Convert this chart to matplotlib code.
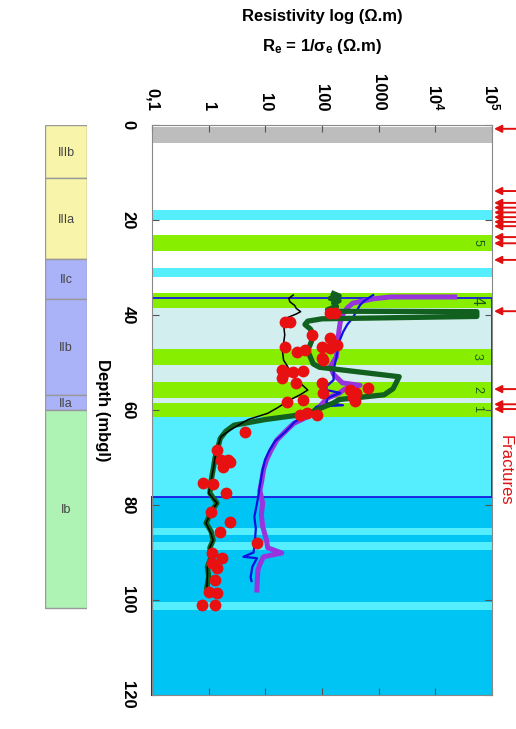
import matplotlib
matplotlib.use("Agg")
import matplotlib.pyplot as plt
from matplotlib.patches import Rectangle
from matplotlib.transforms import blended_transform_factory

plt.rcParams["font.family"] = ["Liberation Sans", "DejaVu Sans"]
plt.rcParams["font.weight"] = "bold"
plt.rcParams["mathtext.default"] = "regular"

# -- data (depth in m below ground, resistivity in ohm.m) ---------------------

green_depth = [35.5, 36.0, 36.5, 37.0, 37.5, 38.2, 38.9, 39.2, 39.3, 40.3, 40.8, 41.3,
               42.0, 43.0, 44.5, 46.0, 47.5, 49.0, 50.3, 51.0, 53.0, 55.5, 56.8, 57.8,
               58.5, 59.3, 60.3, 61.2, 62.0, 63.2, 64.5, 66.0, 68.0, 70.0, 72.5, 75.0,
               77.5, 79.6, 81.5, 83.8, 85.5, 87.4, 89.0, 91.0, 93.0, 95.0, 97.3]
green_res = [160, 200, 140, 200, 160, 180, 125, 160, 54000, 54000, 100, 56,
             50, 63, 70, 63, 56, 63, 70, 90, 2300, 1800, 1250, 200,
             160, 110, 70, 32, 10, 2.8, 2.0, 1.6, 1.45, 1.3, 1.2, 1.1,
             1.05, 1.4, 1.1, 0.9, 1.1, 1.2, 1.05, 1.1, 0.95, 1.0, 0.93]

black_depth = [35.8, 36.5, 37.2, 38.0, 38.6, 39.3, 39.8, 40.6, 42.0, 44.2, 46.0, 47.5,
               49.5, 51.6, 53.0, 54.3, 55.8, 56.8, 57.9, 59.6, 60.7, 62.0, 64.2, 65.6,
               67.7, 70.0, 72.6, 75.0, 77.5, 79.6, 81.5, 83.8, 86.0, 87.4, 89.5, 91.5,
               93.0, 95.0, 97.3]
black_res = [31, 26, 27, 33, 35, 42, 35, 24, 21, 22, 21, 20,
             21, 27, 32, 41, 56, 41, 27, 16, 11, 5, 2.4, 1.65,
             1.45, 1.3, 1.2, 1.1, 1.0, 1.4, 1.1, 0.9, 1.1, 1.2, 1.0, 1.1,
             0.95, 0.95, 0.93]

purple_depth = [36.2, 36.2, 36.6, 37.5, 38.5, 39.6, 41.5, 43.2, 45.5, 48.8, 50.9, 52.5,
                54.3, 54.8, 55.6, 56.5, 57.5, 59.3, 61.5, 62.8, 64.2, 66.3, 68.5, 70.5,
                72.5, 74.7, 77.0, 79.6, 82.0, 84.6, 87.4, 89.0, 90.1, 90.9, 92.5, 93.7,
                96.0, 97.9]
purple_res = [22000, 1600, 800, 350, 280, 240, 210, 200, 190, 180, 140, 160,
              230, 470, 250, 200, 125, 90, 54, 32, 24, 16, 12.6, 10.5,
              9.3, 8.7, 8.0, 9.0, 8.5, 9.0, 10.5, 11, 19.5, 9.3, 8.0, 7.4,
              7.2, 7.1]

blue_depth = [35.8, 37.0, 37.9, 39.3, 40.6, 42.0, 43.6, 45.7, 48.8, 51.6, 53.7, 55.0,
              55.8, 56.4, 57.5, 58.5, 59.0, 59.3, 61.0, 62.5, 64.5, 66.5, 68.5, 70.5,
              73.0, 76.0, 79.0, 82.5, 85.0, 88.0, 90.0, 90.9, 91.2, 93.0, 95.2, 96.0]
blue_res = [800, 560, 470, 400, 350, 280, 235, 200, 180, 160, 160, 120,
            120, 210, 125, 120, 235, 80, 58, 33, 23, 15, 11.8, 9.9,
            8.8, 8.0, 7.3, 6.4, 6.8, 6.5, 6.2, 4.1, 7.1, 5.9, 5.5, 5.7]

dots_depth = [39.6, 39.6, 41.4, 41.4, 44.2, 44.8, 46.7, 47.8, 47.4, 46.7, 46.9, 46.3,
              49.0, 49.5, 51.6, 52.0, 52.0, 51.8, 53.3, 54.3, 54.3, 56.4, 55.8, 56.5,
              57.2, 58.0, 55.4, 58.3, 57.9, 61.0, 60.6, 61.0, 64.7, 68.4, 70.5, 70.5,
              72.0, 71.0, 75.4, 75.6, 77.5, 81.5, 83.6, 85.7, 88.0, 90.1, 91.2, 92.2,
              93.3, 95.8, 98.3, 98.5, 101.0, 101.0]
dots_res = [138, 170, 22, 27, 66, 138, 22, 36, 50, 100, 138, 182,
            100, 105, 19.5, 22, 31, 46, 19.5, 35, 100, 105, 316, 400,
            355, 380, 650, 24, 46, 41, 54, 80, 4.4, 1.4, 1.65, 2.2,
            1.8, 2.4, 0.8, 1.2, 2.0, 1.1, 2.4, 1.6, 7.1, 1.15, 1.7, 1.15,
            1.4, 1.3, 1.0, 1.4, 0.76, 1.3]

# background layers: (top, bottom, kind)
band_top = [0.5, 17.9, 23.2, 30.1, 35.4, 38.5, 47.2, 50.5, 54.1, 57.5, 58.5, 61.5,
            78.3, 84.8, 87.8, 100.4]
band_bot = [3.8, 20.0, 26.5, 32.0, 38.5, 47.2, 50.5, 54.1, 57.5, 58.5, 61.5, 78.3,
            120.0, 86.3, 89.5, 102.0]
band_kind = ["gray", "cyan", "lime", "cyan", "lime", "pale", "lime", "pale", "lime",
             "pale", "lime", "cyan", "deep", "cyan", "cyan", "cyan"]

layer_names = ["5", "4", "3", "2", "1"]
layer_depth = [24.8, 36.9, 48.8, 55.6, 59.7]

fracture_depth = [0.8, 13.9, 16.4, 17.4, 18.4, 19.4, 20.4, 21.3, 23.6, 24.9, 28.4,
                  39.2, 55.6, 58.8, 59.8]

units = ["IIIb", "IIIa", "IIc", "IIb", "IIa", "Ib"]
unit_top = [0.0, 11.2, 28.2, 36.6, 56.8, 60.0]
unit_bot = [11.2, 28.2, 36.6, 56.8, 60.0, 101.7]
unit_color = ["#f8f4aa", "#f8f4aa", "#aab2f8", "#aab2f8", "#aab2f8", "#aef2b4"]

xticks = [0.1, 1, 10, 100, 1000, 1e4, 1e5]
xticklabels = ["0,1", "1", "10", "100", "1000", "$10^4$", "$10^5$"]

# -- style ---------------------------------------------------------------------

FILL = {"gray": "#bdbdbd", "cyan": "#55eeff", "lime": "#88ee00",
        "pale": "#d2eeee", "deep": "#00c4f4"}

fig = plt.figure(figsize=(5.16, 7.29), dpi=100)
ax = fig.add_axes([152 / 516, 1 - 695 / 729, 340 / 516, 570 / 729])
ax.set_xscale("log")
ax.set_xlim(0.1, 1e5)
ax.set_ylim(120, 0)

for t, b, k in zip(band_top, band_bot, band_kind):
    ax.axhspan(t, b, color=FILL[k], lw=0, zorder=0)

ax.add_patch(Rectangle((0.1, 36.5), 1e5 - 0.1, 78.3 - 36.5, fill=False,
                       ec="#1a1ae0", lw=1.3, zorder=1))
ax.plot([0.1, 0.1], [78.3, 120], color="#1a1ae0", lw=1.5, zorder=1, clip_on=False)

ax.plot(purple_res, purple_depth, color="#9933dd", lw=3.6, zorder=2,
        solid_joinstyle="round")
ax.plot(blue_res, blue_depth, color="#1010e0", lw=1.6, zorder=3)
ax.plot(green_res, green_depth, color="#11601f", lw=3.8, zorder=4,
        solid_joinstyle="round")
ax.plot(black_res, black_depth, color="black", lw=1.1, zorder=5)
ax.plot(dots_res, dots_depth, "o", color="#e81010", ms=8.5, mec="none", zorder=6)

tr = blended_transform_factory(ax.transAxes, ax.transData)
for name, d in zip(layer_names, layer_depth):
    ax.text(0.956, d, name, transform=tr, rotation=-90, ha="center", va="center",
            color="#1a5a1a", fontsize=12 if name == "4" else 9,
            fontweight="normal", zorder=7)

for d in fracture_depth:
    ax.annotate("", xy=(1.006, d), xycoords=tr, xytext=(1.075, d), textcoords=tr,
                arrowprops=dict(arrowstyle="-|>", color="#e01010", lw=1.4,
                                mutation_scale=11, shrinkA=0, shrinkB=0),
                annotation_clip=False)
fig.text(505 / 516, 1 - 470 / 729, "Fractures", rotation=-90, color="#e01010",
         fontsize=12, fontweight="normal", ha="center", va="center")

ax.xaxis.tick_top()
ax.set_xticks(xticks)
ax.set_xticklabels(xticklabels, rotation=-90)
ax.minorticks_off()
ax.set_yticks([0, 20, 40, 60, 80, 100, 120])
ax.set_yticklabels(["0", "20", "40", "60", "80", "100", "120"], rotation=-90,
                   va="center")
ax.tick_params(direction="in", top=True, bottom=True, left=True, right=True,
               labelsize=12, length=5, color="#555555")
ax.tick_params(axis="x", pad=10)
ax.tick_params(axis="y", pad=12)
ax.set_ylabel("Depth (mbgl)", rotation=-90, fontsize=12, fontweight="bold",
              labelpad=18)
for s in ax.spines.values():
    s.set_color("#888888")

fig.text(322 / 516, 1 - 17 / 729, "Resistivity log (Ω.m)", ha="center", va="center",
         fontsize=12)
fig.text(322 / 516, 1 - 47 / 729, "R$_e$ = 1/σ$_e$ (Ω.m)", ha="center", va="center",
         fontsize=12)

# stratigraphic column
col = fig.add_axes([45 / 516, 1 - 695 / 729, 42 / 516, 570 / 729])
col.set_xlim(0, 1)
col.set_ylim(120, 0)
col.axis("off")
for name, t, b, c in zip(units, unit_top, unit_bot, unit_color):
    col.add_patch(Rectangle((0, t), 1, b - t, fc=c, ec="#999999", lw=1))
    col.text(0.5, (t + b) / 2 + 0.3, name, ha="center", va="center", fontsize=9,
             fontweight="normal", color="#444444")

fig.savefig("out.png", dpi=100)
